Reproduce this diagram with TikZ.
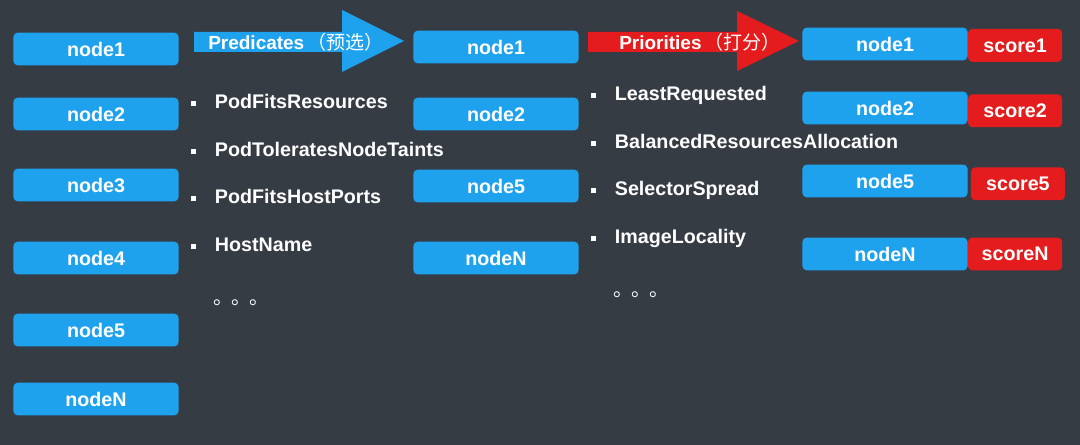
\documentclass[tikz,border=0pt]{standalone}
\usepackage{fontspec}
\setmainfont{Liberation Sans}
\newfontfamily\cjk{Noto Sans CJK SC}
\usetikzlibrary{positioning}
\definecolor{bgcol}{RGB}{54,60,68}
\definecolor{boxblue}{RGB}{31,162,238}
\definecolor{boxred}{RGB}{228,28,30}
\tikzset{
  nodebox/.style={fill=boxblue, rounded corners=3pt, minimum width=4.125cm,
    minimum height=0.82cm, text=white, font=\bfseries\fontsize{14}{16}\selectfont, inner sep=0pt},
  scorebox/.style={nodebox, fill=boxred, minimum width=2.35cm},
  item/.style={anchor=base west, text=white, inner sep=0pt,
    font=\bfseries\fontsize{14}{16}\selectfont},
  dots/.style={anchor=base west, text=white, inner sep=0pt, font=\cjk\fontsize{14}{16}\selectfont}
}
\newcommand\sqb{\rule[0.3ex]{0.13cm}{0.13cm}\hspace{0.46cm}}
\begin{document}
\begin{tikzpicture}[x=0.025cm,y=-0.025cm]
\useasboundingbox[fill=bgcol] (0,0) rectangle (1080,445);
% input nodes
\node[nodebox] (a1) at (96,49) {node1};
\node[nodebox] (a2) at (96,114) {node2};
\node[nodebox] (a3) at (96,185) {node3};
\node[nodebox] (a4) at (96,258) {node4};
\node[nodebox] (a5) at (96,330) {node5};
\node[nodebox] (aN) at (96,399) {nodeN};
% predicates arrow
\fill[boxblue] (194,32) -- (342,32) -- (342,10) -- (404,41) -- (342,72) -- (342,52) -- (194,52) -- cycle;
\node[anchor=west, text=white, inner sep=0pt, font=\bfseries\fontsize{13.5}{16}\selectfont] (pred) at (208,42)
  {Predicates\,{\cjk\mdseries（预选）}};
\node[item] (p1) at (191,109) {\sqb PodFitsResources};
\node[item] (p2) at (191,157) {\sqb PodToleratesNodeTaints};
\node[item] (p3) at (191,204) {\sqb PodFitsHostPorts};
\node[item] (p4) at (191,252) {\sqb HostName};
\node[dots] (p5) at (213,305) {。\hspace{-0.04cm}。\hspace{-0.04cm}。};
% filtered nodes
\node[nodebox] (b1) at (496,47) {node1};
\node[nodebox] (b2) at (496,114) {node2};
\node[nodebox] (b5) at (496,186) {node5};
\node[nodebox] (bN) at (496,258) {nodeN};
% priorities arrow
\fill[boxred] (588,32) -- (737,32) -- (737,11) -- (799,41) -- (737,71) -- (737,52) -- (588,52) -- cycle;
\node[anchor=west, text=white, inner sep=0pt, font=\bfseries\fontsize{13.5}{16}\selectfont] (prio) at (619,42)
  {Priorities\,{\cjk\mdseries（打分）}};
\node[item] (q1) at (591,101) {\sqb LeastRequested};
\node[item] (q2) at (591,149) {\sqb BalancedResourcesAllocation};
\node[item] (q3) at (591,196) {\sqb SelectorSpread};
\node[item] (q4) at (591,244) {\sqb ImageLocality};
\node[dots] (q5) at (613,297) {。\hspace{-0.04cm}。\hspace{-0.04cm}。};
% scored nodes
\node[nodebox] (c1) at (885,44) {node1};
\node[nodebox] (c2) at (885,108) {node2};
\node[nodebox] (c5) at (885,181) {node5};
\node[nodebox] (cN) at (885,254) {nodeN};
\node[scorebox, right=0pt of c1, yshift=-1pt] (s1) {score1};
\node[scorebox, right=0pt of c2, yshift=-2pt] (s2) {score2};
\node[scorebox, right=2pt of c5, yshift=-2pt] (s5) {score5};
\node[scorebox, right=0pt of cN] (sN) {scoreN};
\end{tikzpicture}
\end{document}
